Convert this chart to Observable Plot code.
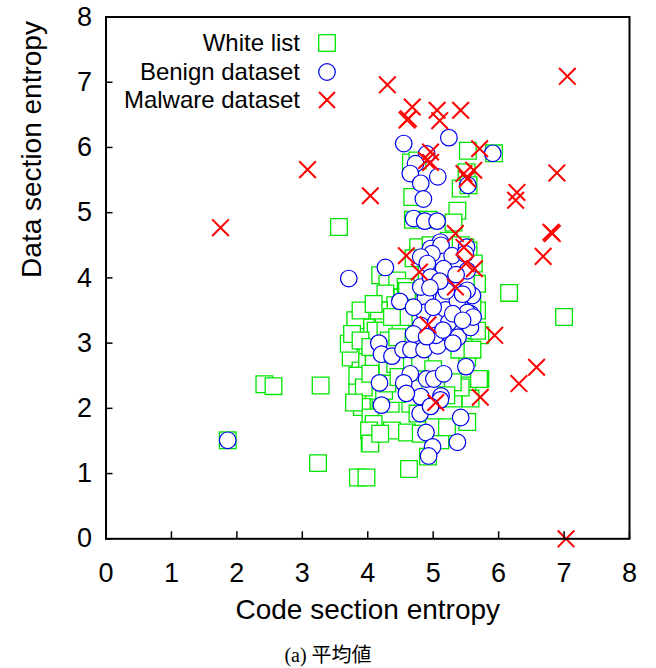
<!DOCTYPE html>
<html><head><meta charset="utf-8">
<script src="https://cdn.jsdelivr.net/npm/d3@7"></script>
<script src="https://cdn.jsdelivr.net/npm/@observablehq/plot@0.6"></script>
<style>
body{margin:0;background:#fff;}
#wrap{position:relative;width:656px;height:668px;overflow:hidden;font-family:"Liberation Sans",Arial,sans-serif;}
.lg{position:absolute;left:0;width:300px;text-align:right;font-size:24px;line-height:28px;color:#000;}
.ls{position:absolute;}
#caption{position:absolute;left:0;top:641px;width:656px;height:26px;text-align:center;font-family:"Liberation Serif",serif;font-size:20px;line-height:26px;}
#caption .cjk{font-family:"Noto Sans CJK JP",sans-serif;}
</style></head><body>
<div id="wrap"><div id="chart"></div><div id="legend"></div><div id="caption">(a) <span class="cjk">平均値</span></div></div>
<script>
const xTicks = [0,1,2,3,4,5,6,7,8];
const yTicks = [0,1,2,3,4,5,6,7,8];
const seriesNames = ["White list", "Benign dataset", "Malware dataset"];
const xTitle = "Code section entropy";
const yTitle = "Data section entropy";

const whiteList = [
[1.86,1.51],[2.42,2.37],[2.56,2.34],[3.28,2.35],[3.24,1.16],[3.56,4.78],[3.85,0.94],[3.98,0.94],[4.63,1.07],[4.03,1.47],[4.92,1.26],
[5.53,5.95],[5.93,5.91],[5.37,5.03],[4.68,5.24],[4.66,5.77],[4.76,5.80],[5.51,5.62],[5.42,5.37],[5.54,5.42],[4.69,4.89],[4.93,4.89],
[5.31,4.85],[5.24,4.57],[4.77,4.47],[4.96,4.50],[5.49,4.47],[6.16,3.77],[7.00,3.40],[5.72,3.12],[5.72,2.45],
[4.19,4.04],[4.30,3.91],[4.45,3.96],[4.27,3.76],[4.42,3.58],[3.99,3.40],[3.97,3.24],[3.81,3.19],[3.79,2.94],[3.74,2.78],[3.81,3.35],
[4.12,3.19],[4.27,3.19],[4.32,3.04],[3.89,2.58],[3.99,2.71],[3.86,2.40],[3.86,2.20],[3.94,2.07],[4.09,2.68],[4.30,2.58],[4.42,2.68],
[4.50,3.19],[4.55,3.40],[4.53,3.70],[4.58,3.86],[5.42,4.50],[5.54,4.42],[5.62,4.22],[5.67,3.91],[5.67,3.50],[5.67,3.19],[5.52,2.78],
[5.52,2.35],[5.31,2.15],[4.81,2.04],[4.65,2.07],[4.30,2.15],[4.09,2.27],
[3.94,2.50],[3.84,2.25],[3.91,2.02],[4.04,1.86],[4.09,1.76],[4.02,1.66],[4.04,1.46],[4.37,1.66],[4.60,1.63],[4.76,1.92],[4.35,2.07],
[4.45,2.22],[4.25,2.27],[5.11,1.51],[5.01,1.71],[5.21,1.71],[5.52,1.79],[5.57,2.15],[5.70,2.45],[5.42,2.32],[4.19,1.61],[4.81,1.61],
[3.71,2.99],[3.76,3.14],[3.89,3.04],[4.04,2.94],[3.89,3.50],[4.17,3.50],[4.09,3.60],[4.37,3.40],[4.45,3.09],[3.84,2.50],[3.94,2.32],
[4.04,2.53],[4.30,2.38],[4.47,2.48],[3.79,2.09],
[4.70,4.30],[4.90,4.10],[5.00,3.90],[5.20,4.00],[5.40,4.20],[5.50,3.90],[4.80,3.60],[5.00,3.40],[5.30,3.50],[5.60,3.60],[4.70,3.00],
[5.10,3.10],[5.40,2.90],[4.80,2.70],[5.00,2.60],[5.30,2.40],[4.70,2.30],[5.20,2.20],[4.60,3.80],[5.45,3.20],[5.60,2.90]
];

const benign = [
[1.86,1.51],[3.71,3.99],[4.27,4.16],[4.49,3.64],[4.17,3.00],[4.21,2.83],[4.37,2.80],[4.54,2.90],[4.66,2.90],[4.86,2.90],[5.07,2.96],
[5.38,3.09],[5.57,3.24],[5.50,2.64],[4.18,2.39],[4.21,2.05],[4.65,2.53],[4.55,2.39],[4.81,2.18],[4.90,2.45],[5.01,2.45],[5.16,2.53],[5.12,2.19],
[4.55,6.06],[5.24,6.15],[5.91,5.91],[4.90,5.90],[4.73,5.75],[4.65,5.60],[4.81,5.45],[5.07,5.55],[4.85,5.21],[5.53,5.42],[4.70,4.91],
[4.87,4.87],[5.06,4.87],[5.11,4.55],[5.51,4.47],[4.96,4.45],
[5.12,4.50],[4.98,4.37],[4.81,4.32],[4.91,4.22],[5.29,4.34],[5.49,4.37],[5.52,4.11],[5.16,4.14],[5.04,3.93],[4.88,3.70],[5.16,3.70],
[5.60,3.73],[4.86,3.47],[5.19,3.51],[5.42,3.55],[5.57,3.45],[4.81,3.27],[5.04,3.32],[5.24,3.32],[5.29,3.86],[5.37,3.65],[4.81,3.86],
[4.96,4.01],[5.52,3.81],[5.52,3.47],[5.61,3.40],[5.20,3.80],[5.04,3.12],[4.70,3.55],[4.70,3.14],
[5.00,3.55],[5.30,3.45],[5.45,3.75],[5.10,3.95],[4.95,3.85],[5.35,4.05],[5.45,3.35],[4.90,3.10],[5.15,3.20],[5.30,3.00],
[4.59,2.23],[4.80,1.92],[4.89,1.63],[4.99,1.41],[4.93,1.27],[5.11,2.13],[5.42,1.86],[5.37,1.48],[4.96,2.03]
];

const malware = [
[1.75,4.77],[3.08,5.66],[4.04,5.26],[4.30,6.96],[4.68,6.62],[4.62,6.44],[4.60,6.42],[5.06,6.57],[5.10,6.41],[5.42,6.57],[7.05,7.09],
[4.96,5.93],[4.96,5.77],[4.90,5.80],[5.71,5.98],[5.47,5.60],[5.62,5.65],[5.52,5.52],[6.28,5.31],[6.26,5.19],[6.89,5.61],[6.82,4.68],
[6.80,4.70],[6.68,4.33],[5.34,4.68],[5.47,4.47],[4.59,4.34],[5.63,4.14],[4.79,4.09],[5.34,3.86],[4.92,3.28],[5.94,3.12],[6.58,2.63],
[6.31,2.38],[5.72,2.17],[5.04,2.09],[7.03,0.00],[5.50,4.22]
];

const toObj = a => a.map(([x,y]) => ({x, y}));
const colors = {white: "#00e600", benign: "#0000f0", malware: "#ff0000"};

const W = 656, H = 636, mL = 105.5, mR = 27, mT = 16.5, mB = 97.7;
const frameW = W - mL - mR, frameH = H - mT - mB, tickLen = 7;

const plot = Plot.plot({
  width: W, height: H,
  marginLeft: mL, marginRight: mR, marginTop: mT, marginBottom: mB,
  style: {fontFamily: "'Liberation Sans', Arial, sans-serif", fontSize: "27px", color: "#000", background: "#fff"},
  x: {domain: [0, 8], ticks: xTicks, tickFormat: "d"},
  y: {domain: [0, 8], ticks: yTicks, tickFormat: "d"},
  marks: [
    Plot.dot(toObj(whiteList), {x: "x", y: "y", symbol: "square", r: 9.4, stroke: colors.white, fill: "white", strokeWidth: 1.3}),
    Plot.dot(toObj(benign), {x: "x", y: "y", symbol: "circle", r: 8.3, stroke: colors.benign, fill: "white", strokeWidth: 1.2}),
    Plot.dot(toObj(malware), {x: "x", y: "y", symbol: "times", r: 7.6, stroke: colors.malware, fill: "none", strokeWidth: 2}),
    Plot.axisX(xTicks, {tickSize: 0, tickPadding: 24, fontSize: 27, label: null, tickFormat: "d"}),
    Plot.axisY(yTicks, {tickSize: 0, tickPadding: 14, fontSize: 27, label: null, tickFormat: "d"}),
    Plot.ruleX(xTicks, {x: d => d, insetTop: frameH - tickLen, stroke: "black", strokeWidth: 1.5}),
    Plot.ruleY(yTicks, {y: d => d, insetRight: frameW - tickLen, stroke: "black", strokeWidth: 1.5}),
    Plot.frame({stroke: "black", strokeWidth: 2}),
    Plot.text([xTitle], {frameAnchor: "bottom", dy: 80, fontSize: 28, text: d => d}),
    Plot.text([yTitle], {frameAnchor: "left", dx: -74, rotate: -90, fontSize: 28, text: d => d})
  ]
});
document.getElementById("chart").appendChild(plot);

// legend (top-left, inside plot)
const legend = document.getElementById("legend");
const rowsY = [43, 72, 100];
const symSvg = [
  `<svg width="20" height="20"><rect x="1.7" y="1.7" width="16.6" height="16.6" fill="white" stroke="${colors.white}" stroke-width="1.3"/></svg>`,
  `<svg width="20" height="20"><circle cx="10" cy="10" r="8.3" fill="white" stroke="${colors.benign}" stroke-width="1.2"/></svg>`,
  `<svg width="20" height="20"><path d="M2,2L18,18M2,18L18,2" stroke="${colors.malware}" stroke-width="2" fill="none"/></svg>`
];
seriesNames.forEach((name, i) => {
  const t = document.createElement("div");
  t.className = "lg";
  t.style.top = (rowsY[i] - 14) + "px";
  t.textContent = name;
  legend.appendChild(t);
  const s = document.createElement("div");
  s.className = "ls";
  s.style.left = "317px";
  s.style.top = (rowsY[i] - 10) + "px";
  s.innerHTML = symSvg[i];
  legend.appendChild(s);
});
</script>
</body></html>
